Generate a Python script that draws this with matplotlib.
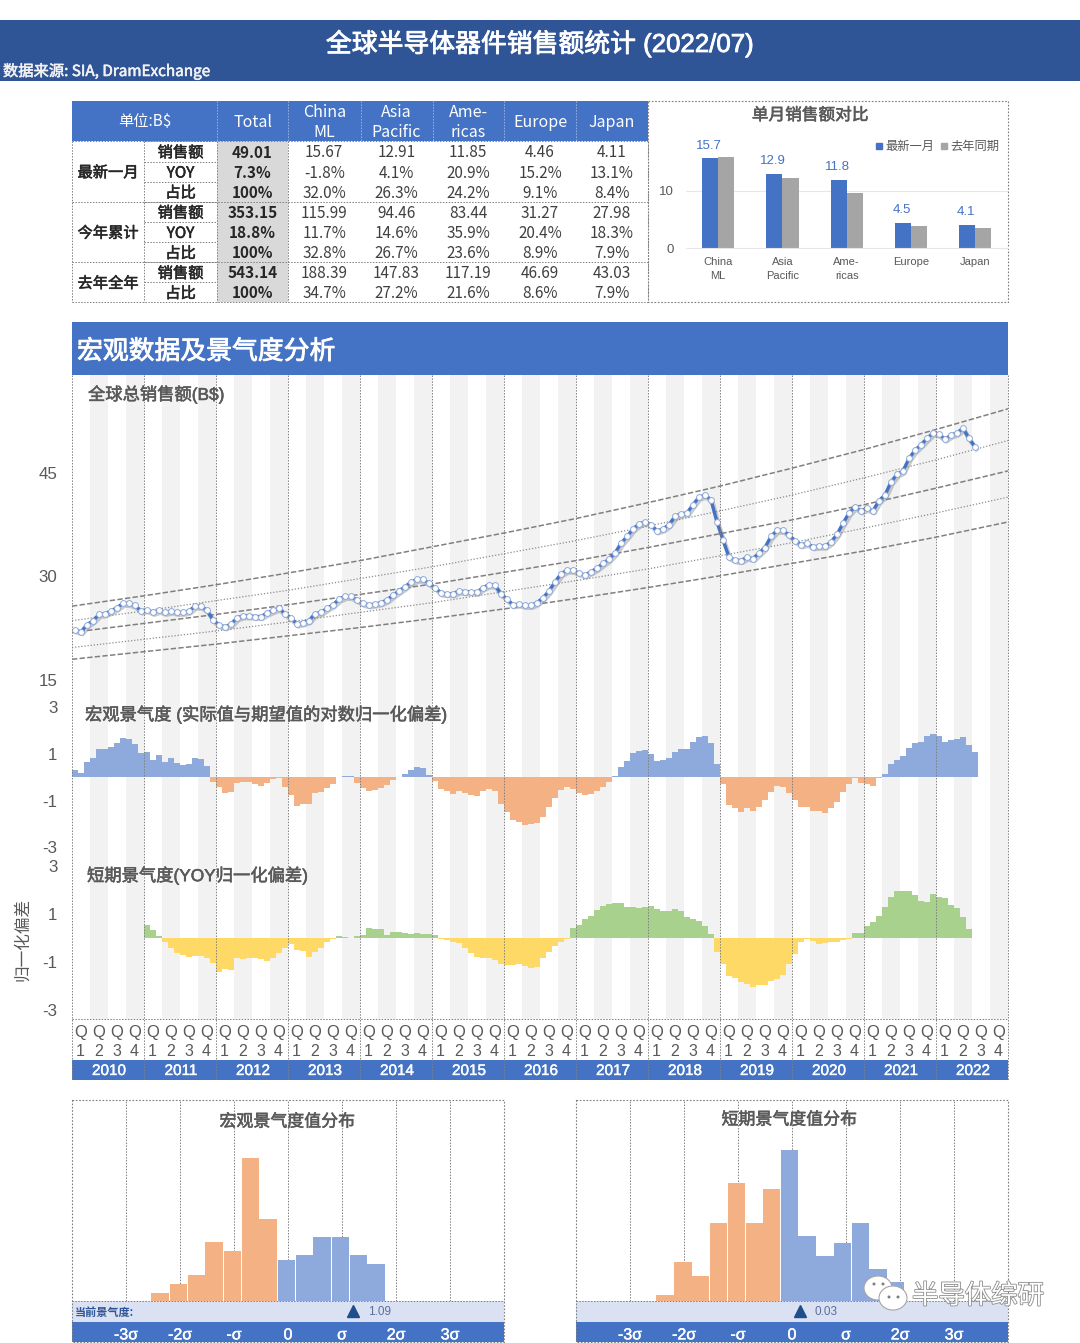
"""Global semiconductor sales dashboard (2022/07)."""

import matplotlib

matplotlib.use("Agg")  # headless rendering
import matplotlib.patheffects as pe
import matplotlib.pyplot as plt
import numpy as np
from matplotlib.lines import Line2D
from matplotlib.patches import Ellipse, Rectangle

plt.rcParams["font.family"] = ["Liberation Sans", "Noto Sans CJK SC", "DejaVu Sans"]
CJK = ["Noto Sans CJK SC", "DejaVu Sans"]

# summary table
regions = ["Total", "China\nML", "Asia\nPacific", "Ame-\nricas", "Europe", "Japan"]
row_groups = ["最新一月", "今年累计", "去年全年"]
row_names = ["销售额", "YOY", "占比", "销售额", "YOY", "占比", "销售额", "占比"]
month_sales = ["49.01", "15.67", "12.91", "11.85", "4.46", "4.11"]
month_yoy = ["7.3%", "-1.8%", "4.1%", "20.9%", "15.2%", "13.1%"]
month_share = ["100%", "32.0%", "26.3%", "24.2%", "9.1%", "8.4%"]
ytd_sales = ["353.15", "115.99", "94.46", "83.44", "31.27", "27.98"]
ytd_yoy = ["18.8%", "11.7%", "14.6%", "35.9%", "20.4%", "18.3%"]
ytd_share = ["100%", "32.8%", "26.7%", "23.6%", "8.9%", "7.9%"]
last_sales = ["543.14", "188.39", "147.83", "117.19", "46.69", "43.03"]
last_share = ["100%", "34.7%", "27.2%", "21.6%", "8.6%", "7.9%"]
table_rows = [month_sales, month_yoy, month_share, ytd_sales, ytd_yoy, ytd_share, last_sales, last_share]

# single month comparison
compare_labels = ["China\nML", "Asia\nPacific", "Ame-\nricas", "Europe", "Japan"]
latest_month = [15.67, 12.91, 11.85, 4.46, 4.11]
year_ago = [15.9, 12.3, 9.7, 3.85, 3.55]

# monthly series, Jan 2010 - Jul 2022
total_sales = [
    22.25, 22.0, 23.0, 23.6, 24.5, 24.6, 25.0, 25.5, 26.1, 26.1, 25.8, 25.0,
    25.2, 24.8, 25.1, 24.8, 25.0, 24.8, 24.8, 25.0, 25.7, 25.7, 25.1, 23.7,
    23.0, 22.7, 23.1, 24.0, 24.3, 24.3, 24.2, 24.2, 24.7, 25.1, 25.4, 24.6,
    24.0, 23.1, 23.3, 23.6, 24.6, 24.8, 25.4, 25.9, 26.7, 27.1, 27.1, 26.6,
    26.1, 25.9, 26.0, 26.2, 26.6, 27.3, 27.9, 28.5, 29.2, 29.6, 29.6, 29.0,
    28.4, 27.6, 27.5, 27.5, 27.9, 27.8, 27.8, 27.7, 28.4, 28.8, 28.7, 27.5,
    26.7, 25.9, 26.0, 25.8, 25.8, 26.2, 26.9, 27.9, 29.2, 30.4, 30.9, 30.9,
    30.5, 30.2, 30.7, 31.2, 31.9, 32.5, 33.4, 34.8, 35.8, 36.9, 37.6, 37.9,
    37.5, 36.6, 36.9, 37.5, 38.7, 39.1, 39.2, 40.4, 41.5, 41.8, 41.1, 37.9,
    35.3, 32.8, 32.4, 32.3, 32.8, 32.6, 33.4, 34.2, 35.8, 36.7, 36.7, 36.0,
    35.2, 34.6, 34.8, 34.3, 34.4, 34.4, 35.0, 36.1, 37.7, 39.2, 40.1, 39.5,
    39.9, 39.5, 41.0, 41.8, 43.7, 44.8, 45.3, 47.1, 48.3, 49.1, 50.0, 50.8,
    50.6, 49.9, 50.5, 50.8, 51.5, 50.0, 48.8,
]
macro_index = [
    0.31, 0.17, 0.64, 0.81, 1.21, 1.21, 1.29, 1.46, 1.67, 1.63, 1.43, 1.03,
    1.10, 0.74, 0.96, 0.67, 0.81, 0.60, 0.53, 0.57, 0.84, 0.79, 0.49, -0.19,
    -0.40, -0.69, -0.61, -0.26, -0.19, -0.21, -0.30, -0.37, -0.26, -0.09, -0.03, -0.40,
    -0.76, -1.21, -1.16, -1.14, -0.69, -0.64, -0.47, -0.29, 0.03, 0.04, 0.05, -0.23,
    -0.47, -0.59, -0.56, -0.44, -0.31, -0.11, 0.03, 0.14, 0.31, 0.43, 0.42, 0.10,
    -0.14, -0.50, -0.59, -0.71, -0.59, -0.69, -0.76, -0.79, -0.59, -0.49, -0.59, -1.14,
    -1.47, -1.83, -1.90, -2.04, -2.01, -1.94, -1.69, -1.29, -0.87, -0.54, -0.43, -0.50,
    -0.69, -0.77, -0.71, -0.59, -0.40, -0.19, 0.06, 0.46, 0.70, 1.03, 1.13, 1.17,
    1.00, 0.70, 0.74, 0.84, 1.10, 1.21, 1.21, 1.50, 1.74, 1.79, 1.46, 0.57,
    -0.29, -1.19, -1.33, -1.47, -1.33, -1.43, -1.29, -0.97, -0.61, -0.36, -0.43, -0.69,
    -0.97, -1.29, -1.26, -1.46, -1.44, -1.51, -1.33, -1.04, -0.61, -0.29, -0.01, -0.26,
    -0.30, -0.37, -0.03, 0.14, 0.57, 0.74, 0.91, 1.24, 1.46, 1.53, 1.77, 1.84,
    1.79, 1.53, 1.60, 1.64, 1.74, 1.39, 1.09,
]
# short term index starts Jan 2011
short_index = [
    0.56, 0.35, 0.11, -0.17, -0.42, -0.60, -0.69, -0.76, -0.74, -0.74, -0.83, -1.01,
    -1.40, -1.26, -1.32, -0.83, -0.88, -0.81, -0.81, -0.88, -0.93, -0.83, -0.63, -0.42,
    -0.24, -0.49, -0.51, -0.76, -0.56, -0.42, -0.14, -0.04, 0.10, 0.04, 0.01, 0.10,
    0.14, 0.42, 0.39, 0.38, 0.14, 0.28, 0.25, 0.24, 0.17, 0.21, 0.19, 0.17,
    0.13, -0.01, -0.07, -0.17, -0.21, -0.42, -0.63, -0.76, -0.83, -0.83, -0.90, -1.07,
    -1.11, -1.11, -1.08, -1.15, -1.25, -1.18, -0.83, -0.56, -0.32, -0.14, -0.03, 0.42,
    0.56, 0.79, 0.93, 1.18, 1.36, 1.42, 1.46, 1.46, 1.32, 1.29, 1.25, 1.32,
    1.35, 1.21, 1.15, 1.14, 1.22, 1.15, 0.88, 0.79, 0.74, 0.53, 0.17, -0.56,
    -1.08, -1.56, -1.67, -1.83, -1.90, -2.01, -1.94, -1.93, -1.78, -1.69, -1.53, -1.08,
    -0.65, -0.14, -0.03, -0.10, -0.22, -0.19, -0.17, -0.14, -0.07, -0.01, 0.21, 0.24,
    0.51, 0.67, 0.93, 1.29, 1.74, 1.99, 1.97, 1.99, 1.79, 1.56, 1.53, 1.85,
    1.71, 1.68, 1.39, 1.25, 0.90, 0.40, 0.03,
]

# trend channel, read at each year start 2010..2023
trend_months = [0, 12, 24, 36, 48, 60, 72, 84, 96, 108, 120, 132, 144, 156]
trend_top = [25.7, 27.2, 28.8, 30.5, 32.3, 34.3, 36.3, 38.4, 40.7, 43.1, 45.7, 48.4, 51.3, 54.3]
trend_upper = [23.6, 25.0, 26.5, 28.0, 29.7, 31.4, 33.3, 35.2, 37.3, 39.5, 41.8, 44.3, 46.9, 49.7]
trend_mid = [21.9, 23.2, 24.5, 25.9, 27.4, 28.9, 30.6, 32.3, 34.2, 36.2, 38.2, 40.4, 42.8, 45.3]
trend_lower = [19.7, 20.9, 22.1, 23.4, 24.8, 26.2, 27.8, 29.4, 31.1, 33.0, 34.9, 37.0, 39.2, 41.5]
trend_bottom = [18.0, 19.1, 20.2, 21.4, 22.6, 23.9, 25.3, 26.8, 28.4, 30.1, 31.9, 33.7, 35.7, 37.9]

years = list(range(2010, 2023))

# histograms
macro_bins = [-2.37, -2.03, -1.70, -1.37, -1.03, -0.70, -0.37, -0.03, 0.30, 0.63, 0.97, 1.30, 1.63]
macro_counts = [1.8, 3.8, 5.8, 13, 11, 31.2, 18, 9, 10, 14.1, 14.1, 10, 8]
short_bins = [-2.35, -2.02, -1.69, -1.36, -1.03, -0.70, -0.38, -0.05, 0.28, 0.61, 0.94, 1.27, 1.59, 1.91]
short_counts = [0.9, 6, 3.9, 12, 18.2, 12, 17.2, 23.3, 10, 7, 9, 12, 4.9, 2.9]
sigma_ticks = [-3, -2, -1, 0, 1, 2, 3]
sigma_labels = ["-3σ", "-2σ", "-σ", "0", "σ", "2σ", "3σ"]
macro_now = 1.09
short_now = 0.03

BLUE = "#4472C4"
DARK_BLUE = "#2F5597"
GREY = "#595959"
LINE = "#7F7F7F"
DOT = (0, (1.5, 1.5))
W, H = 1080, 1343

fig = plt.figure(figsize=(W / 100, H / 100), dpi=100)


def px_axes(x0, y0, x1, y1, zorder=1):
    """Axes placed by reference pixels, y measured from the top."""
    ax = fig.add_axes([x0 / W, 1 - y1 / H, (x1 - x0) / W, (y1 - y0) / H], zorder=zorder)
    ax.patch.set_alpha(0)
    return ax


def heavy(color, width=0.4):
    """Thin stroke, the installed CJK face has no medium weight."""
    return [pe.withStroke(linewidth=width, foreground=color)]


# page layer holds bands, stripes and the table
page = px_axes(0, 0, W, H, zorder=0)
page.set_xlim(0, W)
page.set_ylim(H, 0)
page.axis("off")
over = px_axes(0, 0, W, H, zorder=5)
over.set_xlim(0, W)
over.set_ylim(H, 0)
over.axis("off")


def band(ax, x0, y0, x1, y1, color, **kw):
    ax.add_patch(Rectangle((x0, y0), x1 - x0, y1 - y0, facecolor=color, edgecolor="none", **kw))


def box(ax, x0, y0, x1, y1, lw=0.8):
    ax.add_patch(Rectangle((x0, y0), x1 - x0, y1 - y0, fill=False, edgecolor=LINE, lw=lw, ls=DOT))


# title
band(page, 0, 20, W, 81, DARK_BLUE)
page.text(540, 43.5, "全球半导体器件销售额统计 (2022/07)", color="white", fontsize=18.6,
          ha="center", va="center", path_effects=heavy("white", 0.6))
page.text(3, 71.5, "数据来源: SIA, DramExchange", color="#F2F2F2", fontsize=11, va="center", family=CJK,
          path_effects=heavy("#F2F2F2"))

# table
col_x = [72, 144, 217, 288, 360.5, 432.5, 504, 576, 648]
row_y = [141, 161.5, 181.5, 201.5, 221.7, 242, 262, 282, 302]
group_spans = [(0, 3), (3, 6), (6, 8)]
band(page, 72, 101, 648, 141, BLUE)
band(page, 217, 141, 288, 302, "#D9D9D9")
page.text(145, 122, "单位:B$", color="white", fontsize=11, ha="center", va="center", family=CJK)
for i, name in enumerate(regions):
    cx = (col_x[i + 2] + col_x[i + 3]) / 2
    for k, part in enumerate(name.split("\n")):
        n = len(name.split("\n"))
        cy = 122.5 + (k - (n - 1) / 2) * 20
        page.text(cx, cy, part, color="white", fontsize=11.5, ha="center", va="center", family=CJK)
for x in col_x[2:-1]:
    page.plot([x, x], [101, 141], color="#9DB4E0", lw=0.7, ls=DOT)

for g, (a, b) in enumerate(group_spans):
    page.text(108, (row_y[a] + row_y[b]) / 2 + 1.5, row_groups[g], fontsize=11, ha="center", va="center",
              family=CJK, color="#262626", path_effects=heavy("#262626"))
for r, name in enumerate(row_names):
    cy = (row_y[r] + row_y[r + 1]) / 2 + 1.5
    page.text(180.5, cy, name, fontsize=11, ha="center", va="center", family=CJK,
              color="#262626", path_effects=heavy("#262626"))
    for c, val in enumerate(table_rows[r]):
        cx = (col_x[c + 2] + col_x[c + 3]) / 2
        page.text(cx, cy, val, fontsize=11, ha="center", va="center", family=CJK,
                  color="#262626" if c == 0 else "#404040", fontweight="bold" if c == 0 else "normal")
    page.plot([144, 217], [row_y[r], row_y[r]], color=LINE, lw=0.7, ls=DOT)
for a, b in group_spans:
    page.plot([72, 648], [row_y[a], row_y[a]], color=LINE, lw=0.7, ls=DOT)
page.plot([72, 648], [302, 302], color=LINE, lw=0.7, ls=DOT)
for x in [72, 144, 217, 288, 648]:
    page.plot([x, x], [141, 302], color=LINE, lw=0.7, ls=DOT)

# single month comparison
box(page, 648, 101, 1008, 302)
page.text(810, 115.5, "单月销售额对比", color=GREY, fontsize=12, ha="center", va="center",
          family=CJK, path_effects=heavy(GREY))
cmp_ax = px_axes(686, 101, 1007.5, 248.3)
idx = np.arange(len(compare_labels))
cmp_ax.bar(idx - 0.125, latest_month, width=0.25, color=BLUE)
cmp_ax.bar(idx + 0.125, year_ago, width=0.25, color="#A5A5A5")
cmp_ax.set_xlim(-0.5, 4.5)
cmp_ax.set_ylim(0, 25.7)
cmp_ax.set_yticks([0, 10], ["0", "10"], fontsize=9.5, color=GREY)
cmp_ax.set_xticks(idx, compare_labels, fontsize=8, color=GREY, linespacing=1.5)
cmp_ax.tick_params(length=0, axis="y", pad=9)
cmp_ax.tick_params(length=0, axis="x", pad=6)
cmp_ax.axhline(10, color="#E7E6E6", lw=0.8, zorder=0)
for side in ["top", "left", "right"]:
    cmp_ax.spines[side].set_visible(False)
cmp_ax.spines["bottom"].set_color("#E7E6E6")
for i, v in enumerate(latest_month):
    cmp_ax.annotate(f"{v:.1f}", (i - 0.125, v), xytext=(-1, 5), textcoords="offset points",
                    ha="center", va="bottom", fontsize=9.5, color=BLUE)
cmp_ax.legend(
    handles=[Line2D([], [], ls="", marker="s", ms=4.5, color=BLUE, label="最新一月"),
             Line2D([], [], ls="", marker="s", ms=4.5, color="#A5A5A5", label="去年同期")],
    ncol=2, frameon=False, loc="upper right", bbox_to_anchor=(0.975, 0.735),
    labelcolor=GREY, handlelength=0.5, handletextpad=0.3, columnspacing=0.5, borderpad=0, borderaxespad=0,
    prop={"family": CJK, "size": 8.8},
)

# macro section header
band(page, 72, 322, 1008, 375, BLUE)
page.text(77, 351.5, "宏观数据及景气度分析", color="white", fontsize=18.6, va="center", family=CJK,
          path_effects=heavy("white", 0.6))

# quarter stripes, grid and year axis
for y_i, year in enumerate(years):
    x0 = 72 + 72 * y_i
    for q in (1, 3):
        band(page, x0 + 18 * q, 375, x0 + 18 * q + 18, 1019, "#F2F2F2")
band(page, 72, 1060, 1008, 1080, BLUE)
for y_i, year in enumerate(years):
    x0 = 72 + 72 * y_i
    page.text(x0 + 37, 1071, str(year), color="white", fontsize=11, ha="center", va="center",
              path_effects=heavy("white", 0.3))
    for q in range(4):
        cx = x0 + 18 * q + 9
        page.text(cx - 0.5, 1032, "Q", color=GREY, fontsize=12, ha="center", va="center")
        page.text(cx - 0.5, 1051, str(q + 1), color=GREY, fontsize=11.5, ha="center", va="center")
for y_i in range(len(years) + 1):
    x = 72 + 72 * y_i
    over.plot([x, x], [375, 1080], color=LINE, lw=0.7, ls=DOT)
over.plot([72, 1008], [1019, 1019], color=LINE, lw=0.7, ls=DOT)

months = np.arange(len(total_sales)) + 0.5

# total sales
sales_ax = px_axes(72, 375, 1008, 700)
sales_ax.set_xlim(0, 156)
sales_ax.set_ylim(12.1, 59.2)
for series, ls, lw, col in [(trend_top, (0, (3.5, 1.5)), 1.1, "#808080"), (trend_mid, (0, (3.5, 1.5)), 1.1, "#808080"),
                            (trend_bottom, (0, (3.5, 1.5)), 1.1, "#808080"), (trend_upper, (0, (1, 1.5)), 0.9, "#8C8C8C"),
                            (trend_lower, (0, (1, 1.5)), 0.9, "#8C8C8C")]:
    sales_ax.plot(trend_months, series, color=col, lw=lw, ls=ls)
sales_ax.plot(months, total_sales, color=BLUE, lw=2.4,
              path_effects=[pe.SimpleLineShadow(offset=(1, -1.6), shadow_color="#7F7F7F", alpha=0.4, linewidth=3.4),
                            pe.Normal()])
sales_ax.plot(months, total_sales, ls="", marker="o", ms=4.2, mfc="white", mec="#8EA9DB", mew=0.7)

macro_ax = px_axes(72, 707.3, 1008, 847.3)
macro_ax.set_xlim(0, 156)
macro_ax.set_ylim(-3, 3)
macro = np.array(macro_index)
macro_ax.bar(months, macro, width=1.0, color=np.where(macro >= 0, "#8EA9DB", "#F4B183"))

short_ax = px_axes(72, 866.3, 1008, 1010.3)
short_ax.set_xlim(0, 156)
short_ax.set_ylim(-3, 3)
short = np.array(short_index)
short_ax.bar(months[12:], short, width=1.0, color=np.where(short >= 0, "#A9D18E", "#FFD966"))

for ax, ticks in [(sales_ax, [15, 30, 45]), (macro_ax, [-3, -1, 1, 3]), (short_ax, [-3, -1, 1, 3])]:
    ax.set_yticks(ticks, [str(t) for t in ticks], fontsize=12.2, color=GREY)
    ax.set_xticks([])
    ax.tick_params(length=0, pad=10.5)
    for spine in ax.spines.values():
        spine.set_visible(False)

for tx, ty, label in [(88, 394, "全球总销售额(B$)"),
                      (85, 714, "宏观景气度 (实际值与期望值的对数归一化偏差)"),
                      (87, 875, "短期景气度(YOY归一化偏差)")]:
    over.text(tx, ty, label, color=GREY, fontsize=12.45, va="center", path_effects=heavy(GREY))
page.text(22.5, 939, "归一化偏差", color=GREY, fontsize=12, rotation=90, ha="center", va="center", family=CJK)


# histograms
def draw_hist(x0, bins, counts, top, title, title_xy, now, now_label=None):
    x1 = x0 + 432
    band(page, x0, 1301, x1, 1322, "#D9E1F2")
    band(page, x0, 1322, x1, 1342, BLUE)
    box(page, x0, 1100, x1, 1342)
    page.plot([x0, x1], [1301, 1301], color=LINE, lw=0.7, ls=DOT)
    ax = px_axes(x0, 1100, x1, 1301)
    ax.set_xlim(-4, 4)
    ax.set_ylim(0, top)
    for t in sigma_ticks:
        ax.axvline(t, color=LINE, lw=0.7, ls=DOT, zorder=0)
    colors = ["#F4B183" if b < -0.2 else "#8EA9DB" for b in bins]
    ax.bar(bins, counts, width=0.32, color=colors, zorder=2)
    ax.set_yticks([])
    ax.set_xticks(sigma_ticks, sigma_labels, fontsize=11.5, color="white",
                  path_effects=heavy("white", 0.3))
    ax.tick_params(length=0, axis="x", pad=19)
    for spine in ax.spines.values():
        spine.set_visible(False)
    over.text(title_xy[0], title_xy[1], title, color=GREY, fontsize=12.2, ha="center", va="center",
              family=CJK, path_effects=heavy(GREY))
    # marker sits just right of the value in the source sheet
    ax.plot([now + 0.12], [0], marker="^", ms=8, color="#1F4E8C", ls="", clip_on=False, zorder=4,
            transform=ax.get_xaxis_transform() + matplotlib.transforms.ScaledTranslation(0, -10 / 100, fig.dpi_scale_trans))
    ax.annotate(f"{now:.2f}", (now + 0.12, 0), xycoords=("data", "axes fraction"), xytext=(19, -8),
                textcoords="offset points", ha="center", va="center", fontsize=8.5, color="#5B6F9C",
                annotation_clip=False)
    if now_label:
        page.text(x0 + 3, 1312, now_label, fontsize=8, va="center", color=DARK_BLUE, family=CJK, fontweight="bold")


draw_hist(72, macro_bins, macro_counts, 44, "宏观景气度值分布", (287, 1121.5), macro_now, "当前景气度:")
draw_hist(576, short_bins, short_counts, 31, "短期景气度值分布", (789, 1119.5), short_now)

# watermark
for cx, cy, rx, ry in [(878, 1288, 14, 12), (893, 1298, 14, 12)]:
    over.add_patch(Ellipse((cx, cy), 2 * rx, 2 * ry, facecolor="white", edgecolor="#A6A6A6", lw=0.8))
for ex, ey in [(874, 1284), (883, 1284), (889, 1297), (898, 1297)]:
    over.add_patch(Ellipse((ex, ey), 3, 3, facecolor="#7F7F7F", edgecolor="none"))
over.text(912, 1296, "半导体综研", color="white", fontsize=19, va="center", family=CJK,
          path_effects=[pe.withStroke(linewidth=1.2, foreground="#8C8C8C")])

fig.savefig("out.png", dpi=100)
plt.close(fig)
